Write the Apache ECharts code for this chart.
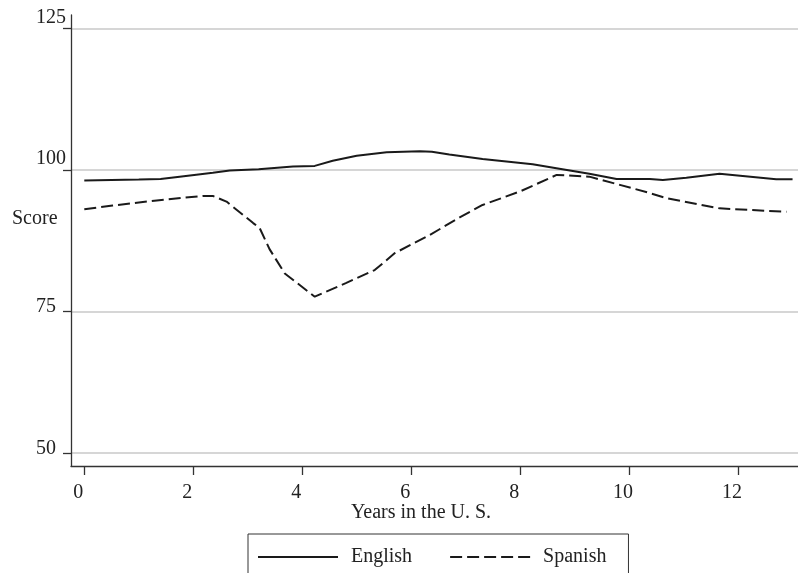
<!DOCTYPE html>
<html>
<head>
<meta charset="utf-8">
<script src="https://cdn.jsdelivr.net/npm/echarts@6/dist/echarts.min.js"></script>
<style>
html,body{margin:0;padding:0;background:#fff;}
#chart{width:798px;height:573px;}
</style>
</head>
<body>
<div id="chart"></div>
<script>
var englishYears  = [0, 0.5, 1, 1.4, 1.75, 2.36, 2.67, 3.2, 3.83, 4.23, 4.56, 5.0, 5.55, 6.16, 6.38, 6.7, 7.31, 8.23, 8.72, 9.27, 9.77, 10.38, 10.62, 11.05, 11.66, 12.7, 13.0];
var englishScores = [98.1, 98.2, 98.3, 98.4, 98.8, 99.5, 99.9, 100.1, 100.6, 100.7, 101.6, 102.5, 103.1, 103.3, 103.2, 102.7, 101.9, 101.0, 100.2, 99.3, 98.4, 98.4, 98.2, 98.6, 99.3, 98.35, 98.35];
var spanishYears  = [0, 0.52, 1.33, 2.18, 2.36, 2.61, 3.1, 3.22, 3.4, 3.68, 4.23, 4.8, 5.33, 5.7, 6.34, 6.89, 7.31, 8.0, 8.67, 9.27, 9.83, 10.38, 10.69, 11.66, 12.89];
var spanishScores = [93.05, 93.7, 94.6, 95.4, 95.4, 94.4, 90.6, 89.7, 86.0, 81.7, 77.6, 80.0, 82.3, 85.3, 88.5, 91.6, 93.8, 96.2, 99.1, 98.8, 97.35, 95.9, 95.0, 93.2, 92.6];
var xTicks = [0, 2, 4, 6, 8, 10, 12];
var yTicks = [50, 75, 100, 125];
var seriesNames = ['English', 'Spanish'];

function zip(xs, ys) { return xs.map(function (x, i) { return [x, ys[i]]; }); }

var FONT = 'Liberation Serif';
var chart = echarts.init(document.getElementById('chart'), null, {renderer: 'canvas'});
chart.setOption({
  backgroundColor: '#ffffff',
  animation: false,
  textStyle: {fontFamily: FONT, color: '#222'},
  title: [
    {text: 'Years in the U. S.', left: 421, top: 503, textAlign: 'center',
     textStyle: {fontFamily: FONT, fontSize: 20, fontWeight: 'normal', color: '#222'}, padding: 0},
    {text: 'Score', left: 12, top: 209,
     textStyle: {fontFamily: FONT, fontSize: 20, fontWeight: 'normal', color: '#222'}, padding: 0}
  ],
  legend: {
    data: seriesNames,
    left: 248, top: 534,
    orient: 'horizontal',
    itemWidth: 80, itemHeight: 14, itemGap: 37,
    padding: [13, 22, 30, 9],
    borderColor: '#333', borderWidth: 1,
    itemStyle: {opacity: 0},
    textStyle: {fontFamily: FONT, fontSize: 20, color: '#222', padding: [2, 0, 0, 8]}
  },
  grid: {left: 71, top: 15, right: 0, bottom: 107, containLabel: false},
  xAxis: {
    type: 'value', min: -0.244, max: 13.1,
    axisLine: {show: true, onZero: false, lineStyle: {color: '#333', width: 1.3}},
    axisTick: {show: true, length: 9, customValues: xTicks, lineStyle: {color: '#333', width: 1.3}},
    axisLabel: {customValues: xTicks, fontFamily: FONT, fontSize: 20, color: '#222', margin: 17, padding: [0, 12, 0, 0]},
    splitLine: {show: false}
  },
  yAxis: {
    type: 'value', min: 47.7, max: 127.35,
    axisLine: {show: true, onZero: false, lineStyle: {color: '#333', width: 1.3}},
    axisTick: {show: true, length: 8, customValues: yTicks, lineStyle: {color: '#333', width: 1.3}},
    axisLabel: {
      customValues: yTicks, fontFamily: FONT, fontSize: 20, color: '#222', margin: 35, align: 'left', verticalAlign: 'middle',
      formatter: function (v) { return v >= 100 ? '{hi|' + v + '}' : '{lo|' + v + '}'; },
      rich: {
        hi: {fontFamily: FONT, fontSize: 20, color: '#222', padding: [0, 0, 22, 0]},
        lo: {fontFamily: FONT, fontSize: 20, color: '#222', padding: [0, 0, 9, 0]}
      }
    },
    splitLine: {show: true, lineStyle: {color: '#c8c8c8', width: 1.6}}
  },
  series: [
    {name: seriesNames[0], type: 'line', data: zip(englishYears, englishScores), symbol: 'none',
     lineStyle: {color: '#1a1a1a', width: 2, type: 'solid'}, itemStyle: {color: '#1a1a1a'}},
    {name: seriesNames[1], type: 'line', data: zip(spanishYears, spanishScores), symbol: 'none',
     lineStyle: {color: '#1a1a1a', width: 2, type: [12, 5]}, itemStyle: {color: '#1a1a1a'}}
  ]
});
</script>
</body>
</html>
